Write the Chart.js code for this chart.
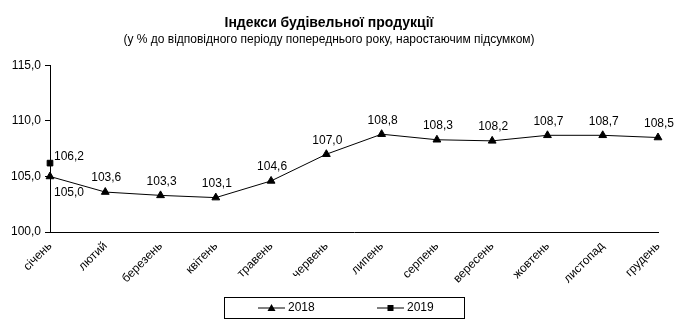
<!DOCTYPE html>
<html>
<head>
<meta charset="utf-8">
<script src="https://cdn.jsdelivr.net/npm/chart.js@4/dist/chart.umd.min.js"></script>
<style>
  html, body { margin: 0; padding: 0; background: #fff; }
  #wrap { width: 679px; height: 334px; }
</style>
</head>
<body>
<div id="wrap"><canvas id="chart" width="679" height="334"></canvas></div>
<script>
const months = ["січень", "лютий", "березень", "квітень", "травень", "червень",
  "липень", "серпень", "вересень", "жовтень", "листопад", "грудень"]
const values2018 = [105.0, 103.6, 103.3, 103.1, 104.6, 107.0, 108.8, 108.3, 108.2, 108.7, 108.7, 108.5]
const values2019 = [106.2, null, null, null, null, null, null, null, null, null, null, null]
const yTicks = [100, 105, 110, 115]

const FONT = "'Liberation Sans', Arial, sans-serif"
const fmt = v => v.toFixed(1).replace(".", ",")

// data labels like excel: above the point, first ones shifted to the right
const labelsPlugin = {
  id: "pointLabels",
  afterDatasetsDraw(chart) {
    const ctx = chart.ctx
    ctx.save()
    ctx.font = "12px " + FONT
    ctx.fillStyle = "#000"
    ctx.textAlign = "center"
    ctx.textBaseline = "middle"
    chart.data.datasets.forEach((ds, di) => {
      const meta = chart.getDatasetMeta(di)
      meta.data.forEach((pt, i) => {
        const v = ds.data[i]
        if (v == null) return
        let dx = 1, dy = -14
        if (di === 0 && i === 0) { dx = 19; dy = 16 }
        if (di === 1) { dx = 19; dy = -6 }
        ctx.fillText(fmt(v), pt.x + dx, pt.y + dy)
      })
    })
    ctx.restore()
  }
}

// boxed legend under the axis
const legendPlugin = {
  id: "boxLegend",
  afterDraw(chart) {
    const ctx = chart.ctx
    const left = 224, top = 297, w = 240, h = 21
    ctx.save()
    ctx.strokeStyle = "#000"
    ctx.lineWidth = 1
    ctx.strokeRect(left + 0.5, top + 0.5, w, h)
    const cy = top + h / 2 + 0.5
    const items = [{ x: 258, ds: 0 }, { x: 377, ds: 1 }]
    items.forEach(it => {
      const ds = chart.data.datasets[it.ds]
      ctx.beginPath()
      ctx.moveTo(it.x, cy)
      ctx.lineTo(it.x + 27, cy)
      ctx.stroke()
      const mx = it.x + 13.5
      ctx.fillStyle = "#000"
      if (ds.pointStyle === "triangle") {
        ctx.beginPath()
        ctx.moveTo(mx, cy - 4)
        ctx.lineTo(mx + 4, cy + 3)
        ctx.lineTo(mx - 4, cy + 3)
        ctx.closePath()
        ctx.fill()
      } else {
        ctx.fillRect(mx - 3, cy - 3, 6, 6)
      }
      ctx.font = "12px " + FONT
      ctx.textAlign = "left"
      ctx.textBaseline = "middle"
      ctx.fillText(ds.label, it.x + 30, cy)
    })
    ctx.restore()
  }
}

new Chart(document.getElementById("chart"), {
  type: "line",
  data: {
    labels: months,
    datasets: [
      {
        label: "2018",
        data: values2018,
        borderColor: "#000",
        backgroundColor: "#000",
        borderWidth: 1,
        pointStyle: "triangle",
        pointRadius: 4.5,
        tension: 0,
      },
      {
        label: "2019",
        data: values2019,
        borderColor: "#000",
        backgroundColor: "#000",
        borderWidth: 1,
        pointStyle: "rect",
        pointRadius: 4,
        tension: 0,
      },
    ],
  },
  options: {
    responsive: false,
    animation: false,
    layout: { padding: { left: 0, right: 21, top: 0, bottom: 46 } },
    plugins: {
      legend: { display: false },
      tooltip: { enabled: false },
      title: {
        display: true,
        text: "Індекси будівельної продукції",
        color: "#000",
        font: { family: FONT, size: 14, weight: "bold" },
        padding: { top: 15, bottom: 1 },
      },
      subtitle: {
        display: true,
        text: "(у % до відповідного періоду попереднього року, наростаючим підсумком)",
        color: "#000",
        font: { family: FONT, size: 12 },
        padding: { top: 0, bottom: 18 },
      },
    },
    scales: {
      x: {
        offset: false,
        grid: { display: false, drawOnChartArea: false, drawTicks: true, tickLength: 5, tickColor: "#000" },
        border: { color: "#000", width: 1 },
        ticks: {
          color: "#000",
          font: { family: FONT, size: 12 },
          maxRotation: 45,
          minRotation: 45,
          autoSkip: false,
          padding: 2,
        },
      },
      y: {
        min: 100,
        max: 115,
        afterBuildTicks: s => { s.ticks = yTicks.map(v => ({ value: v })) },
        afterFit: s => { s.width = 50 },
        grid: { drawOnChartArea: false, drawTicks: true, tickLength: 5, tickColor: "#000" },
        border: { color: "#000", width: 1 },
        ticks: {
          color: "#000",
          font: { family: FONT, size: 12 },
          padding: 4,
          callback: v => fmt(v),
        },
      },
    },
  },
  plugins: [labelsPlugin, legendPlugin],
})
</script>
</body>
</html>
